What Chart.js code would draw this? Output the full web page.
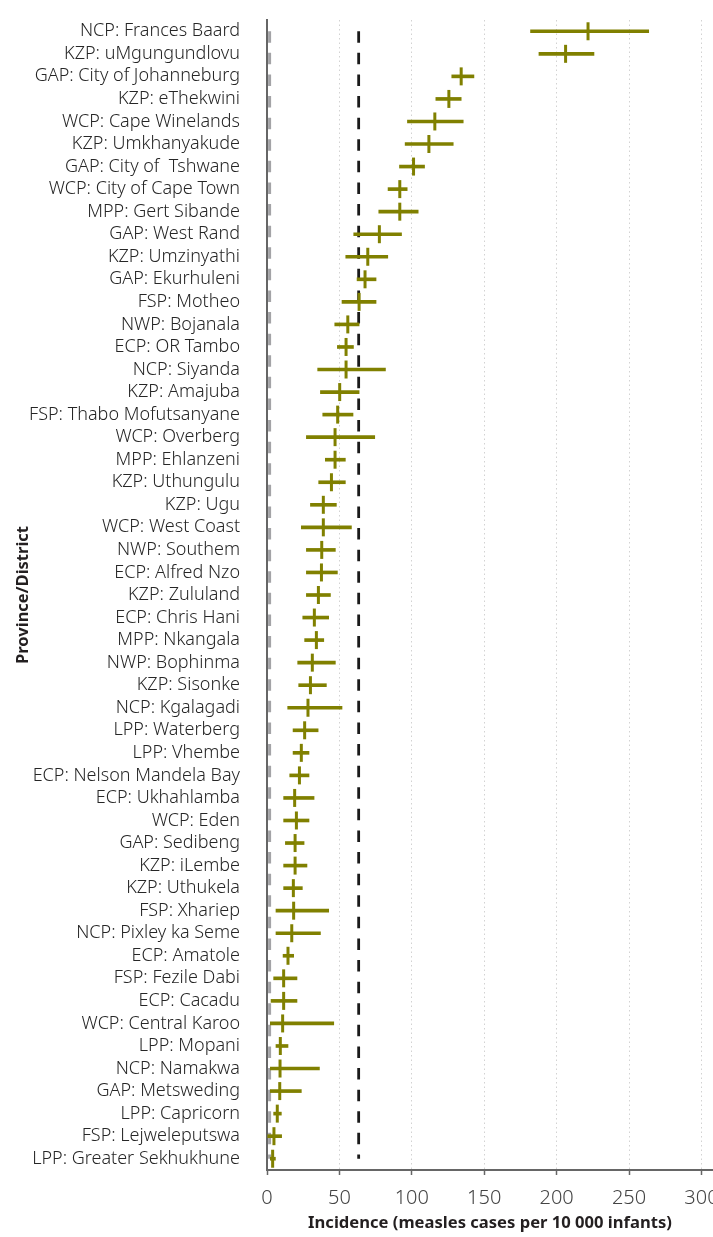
<!DOCTYPE html>
<html>
<head>
<meta charset="utf-8">
<script src="https://cdn.jsdelivr.net/npm/chart.js@4.4.1/dist/chart.umd.min.js"></script>
<style>
    html, body { margin: 0; background: #fff; overflow: hidden; }
    .chartBox { width: 713px; height: 1237px; }
</style>
</head>
<body>
<div class="chartBox"><canvas id="canvas"></canvas></div>
<script>
const districts = [
    'NCP: Frances Baard', 'KZP: uMgungundlovu', 'GAP: City of Johanneburg', 'KZP: eThekwini',
    'WCP: Cape Winelands', 'KZP: Umkhanyakude', 'GAP: City of  Tshwane', 'WCP: City of Cape Town',
    'MPP: Gert Sibande', 'GAP: West Rand', 'KZP: Umzinyathi', 'GAP: Ekurhuleni',
    'FSP: Motheo', 'NWP: Bojanala', 'ECP: OR Tambo', 'NCP: Siyanda',
    'KZP: Amajuba', 'FSP: Thabo Mofutsanyane', 'WCP: Overberg', 'MPP: Ehlanzeni',
    'KZP: Uthungulu', 'KZP: Ugu', 'WCP: West Coast', 'NWP: Southem',
    'ECP: Alfred Nzo', 'KZP: Zululand', 'ECP: Chris Hani', 'MPP: Nkangala',
    'NWP: Bophinma', 'KZP: Sisonke', 'NCP: Kgalagadi', 'LPP: Waterberg',
    'LPP: Vhembe', 'ECP: Nelson Mandela Bay', 'ECP: Ukhahlamba', 'WCP: Eden',
    'GAP: Sedibeng', 'KZP: iLembe', 'KZP: Uthukela', 'FSP: Xhariep',
    'NCP: Pixley ka Seme', 'ECP: Amatole', 'FSP: Fezile Dabi', 'ECP: Cacadu',
    'WCP: Central Karoo', 'LPP: Mopani', 'NCP: Namakwa', 'GAP: Metsweding',
    'LPP: Capricorn', 'FSP: Lejweleputswa', 'LPP: Greater Sekhukhune'
]

// incidence per 10 000 infants
const incidence = [
    221.7, 206.2, 134.1, 125.6, 115.9, 111.8, 101.2, 91.7, 91.7, 77.6,
    69.6, 67.7, 63.6, 55.8, 54.6, 54.6, 50.2, 48.8, 47, 47,
    44.5, 38.9, 38.9, 37.8, 37.6, 35.5, 32.7, 34.1, 31.3, 30,
    28.3, 26, 23.7, 22.4, 19.1, 20.3, 19.4, 19.4, 18.2, 18.4,
    17.1, 14.5, 11.5, 11.5, 10.8, 9.2, 9, 8.8, 7.1, 4.8, 3.9
]

const ciLow = [
    182, 187.8, 127.6, 116.6, 97, 95.4, 91.5, 83.6, 77.2, 59.9,
    54.4, 62.2, 51.8, 46.8, 48.6, 35, 36.9, 38.5, 27.2, 40.3,
    35.7, 30, 23.7, 27.2, 27.2, 27.2, 24.7, 26, 21.2, 21.9,
    14.3, 18, 18, 15.7, 11.5, 11.5, 12.7, 11.5, 11.5, 6.2,
    6.2, 11.1, 4.6, 2.8, 2.3, 6.2, 2.3, 2.3, 4.6, 0.5, 2.3
]

const ciHigh = [
    263.6, 225.8, 142.9, 134.1, 135.5, 128.6, 108.8, 96.8, 104.4, 92.9,
    83.4, 75.3, 75.3, 63.6, 59.7, 81.8, 63.6, 59.4, 74.4, 54.1,
    54.1, 47.9, 58.3, 47.2, 48.6, 43.8, 42.6, 39.2, 47.2, 41,
    51.8, 35.3, 29, 29, 32.5, 29, 25.6, 27.6, 24.4, 42.6,
    36.9, 18.4, 20.7, 20.7, 46.1, 14.5, 36.2, 23.7, 9.9, 10.1, 5.8
]

const nationalRate = 63.3
const lowerRate = 1.8

const xTicks = [0, 50, 100, 150, 200, 250, 300]

const family = "'Noto Sans', 'DejaVu Sans', sans-serif"
const olive = '#808000'

const refLine = (value, color, width) => ({
    type: 'line',
    indexAxis: 'y',
    data: [
        { x: value, y: districts[0] },
        { x: value, y: districts[districts.length - 1] }
    ],
    borderColor: color,
    borderWidth: width,
    borderDash: [11.5, 10.1],
    pointRadius: 0,
    order: 3
})

const plotChart = () => {
    const ctx = document.querySelector('#canvas').getContext('2d')
    new Chart(ctx, {
        type: 'bar',
        data: {
            labels: districts,
            datasets: [
                {
                    type: 'line',
                    indexAxis: 'y',
                    data: incidence,
                    showLine: false,
                    pointStyle: 'line',
                    rotation: 90,
                    pointRadius: 9,
                    pointBorderWidth: 3,
                    borderColor: olive,
                    backgroundColor: olive,
                    order: 0
                },
                {
                    data: ciLow.map((lo, i) => [lo, ciHigh[i]]),
                    backgroundColor: olive,
                    borderWidth: 0,
                    barThickness: 3,
                    order: 1
                },
                refLine(nationalRate, '#1a1a1a', 2.8),
                refLine(lowerRate, '#a3a3a6', 3)
            ]
        },
        options: {
            indexAxis: 'y',
            responsive: true,
            maintainAspectRatio: false,
            animation: false,
            layout: {
                autoPadding: false,
                padding: { top: 20, right: 0, left: 0, bottom: 0 }
            },
            plugins: {
                legend: { display: false },
                tooltip: { enabled: false }
            },
            scales: {
                x: {
                    type: 'linear',
                    min: 0,
                    max: 308,
                    afterBuildTicks: scale => {
                        scale.ticks = xTicks.map(value => ({ value }))
                    },
                    afterFit: scale => {
                        scale.height = 67
                        scale.paddingLeft = 0
                        scale.paddingRight = 0
                    },
                    ticks: {
                        padding: 0,
                        color: '#444',
                        font: { family, size: 20, weight: '300 condensed', lineHeight: 2.3 }
                    },
                    grid: {
                        color: '#d2d2d2',
                        lineWidth: 1,
                        tickColor: '#666',
                        tickLength: 5,
                        tickWidth: 1.5
                    },
                    border: { color: '#666', width: 2, dash: [1.5, 3] },
                    title: {
                        display: true,
                        text: 'Incidence (measles cases per 10 000 infants)',
                        color: '#231f20',
                        font: { family, size: 16.6, weight: 'bold condensed' },
                        padding: { top: 0, bottom: 4 }
                    }
                },
                y: {
                    afterFit: scale => {
                        scale.width = 267
                        scale.paddingTop = 0
                        scale.paddingBottom = 0
                    },
                    ticks: {
                        autoSkip: false,
                        padding: 27,
                        color: '#262626',
                        font: { family, size: 18, weight: '300 condensed' }
                    },
                    grid: { display: false, drawTicks: false },
                    border: { color: '#666', width: 2 },
                    title: {
                        display: true,
                        text: 'Province/District',
                        color: '#231f20',
                        font: { family, size: 16.5, weight: 'bold condensed' },
                        padding: { top: 13, bottom: 0 }
                    }
                }
            }
        }
    })
}

plotChart()
</script>
</body>
</html>
